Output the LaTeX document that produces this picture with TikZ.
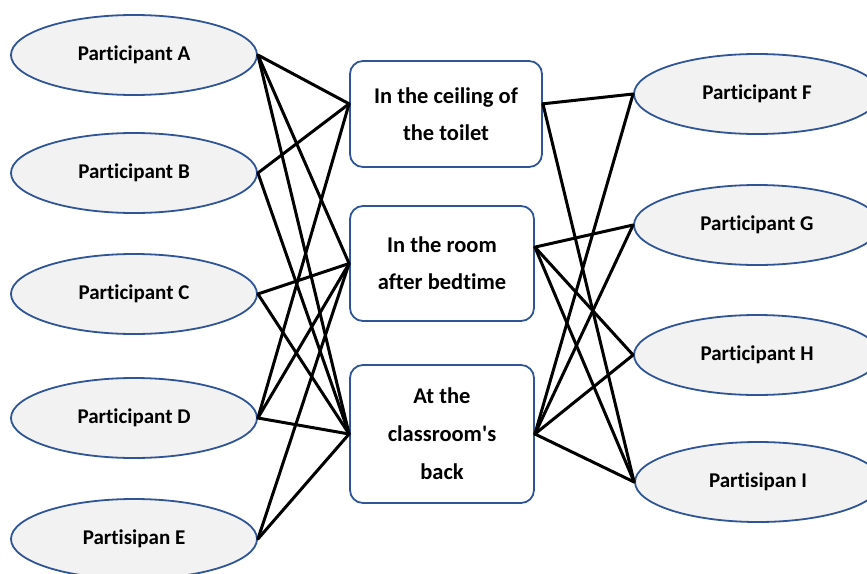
\documentclass[tikz,border=0pt]{standalone}
\usepackage{fontspec}
\setmainfont{Carlito}[Ligatures=NoCommon]
\usetikzlibrary{shapes.geometric}
\definecolor{edgeblue}{HTML}{2F5597}
\definecolor{ellfill}{HTML}{F2F2F2}
\tikzset{
  person/.style={ellipse, draw=edgeblue, line width=1.8pt, fill=ellfill,
    minimum width=246pt, minimum height=80pt, inner sep=0pt,
    font=\fontsize{21}{24}\selectfont\bfseries},
  place/.style={rectangle, rounded corners=13pt, draw=edgeblue, line width=1.8pt, fill=white,
    inner sep=0pt, align=center, font=\fontsize{22.5}{37}\selectfont\bfseries},
  link/.style={draw=black, line width=3pt, line cap=round, line join=round}
}
\begin{document}
\begin{tikzpicture}[x=1pt,y=-1pt]
\useasboundingbox (0,0) rectangle (867,573);
\clip (0,0) rectangle (867,573);
\node[person] (A) at (134,55) {Participant A};
\node[person] (B) at (134,173) {Participant B};
\node[person] (C) at (134,294) {Participant C};
\node[person] (D) at (134,418) {Participant D};
\node[person] (E) at (134,539) {Partisipan E};
\node[person] (F) at (757,94) {Participant F};
\node[person] (G) at (757,225) {Participant G};
\node[person] (H) at (757,355) {Participant H};
\node[person] (I) at (758,482) {Partisipan I};
\node[place, minimum width=192pt, minimum height=106pt] (b1) at (446,114) {In the ceiling of\\the toilet};
\node[place, minimum width=184pt, minimum height=115pt] (b2) at (442,263.5) {In the room\\after bedtime};
\node[place, minimum width=184pt, minimum height=138pt, font=\fontsize{22.5}{38}\selectfont\bfseries] (b3) at (442,434) {At the\\classroom\textquotesingle s\\back};
% left connectors
\draw[link] (A.east) -- (b1.174);
\draw[link] (A.east) -- (b2.west);
\draw[link] (A.east) -- (b3.west);
\draw[link] (B.east) -- (b1.174);
\draw[link] (B.east) -- (b3.west);
\draw[link] (C.east) -- (b2.west);
\draw[link] (C.east) -- (b3.west);
\draw[link] (D.east) -- (b1.174);
\draw[link] (D.east) -- (b2.west);
\draw[link] (D.east) -- (b3.west);
\draw[link] (E.east) -- (b2.west);
\draw[link] (E.east) -- (b3.west);
% right connectors
\draw[link] (b1.6) -- (F.west);
\draw[link] (b1.6) -- (I.west);
\draw[link] (b2.10) -- (G.west);
\draw[link] (b2.10) -- (H.west);
\draw[link] (b2.10) -- (I.west);
\draw[link] (b3.east) -- (F.west);
\draw[link] (b3.east) -- (G.west);
\draw[link] (b3.east) -- (H.west);
\draw[link] (b3.east) -- (I.west);
\end{tikzpicture}
\end{document}
